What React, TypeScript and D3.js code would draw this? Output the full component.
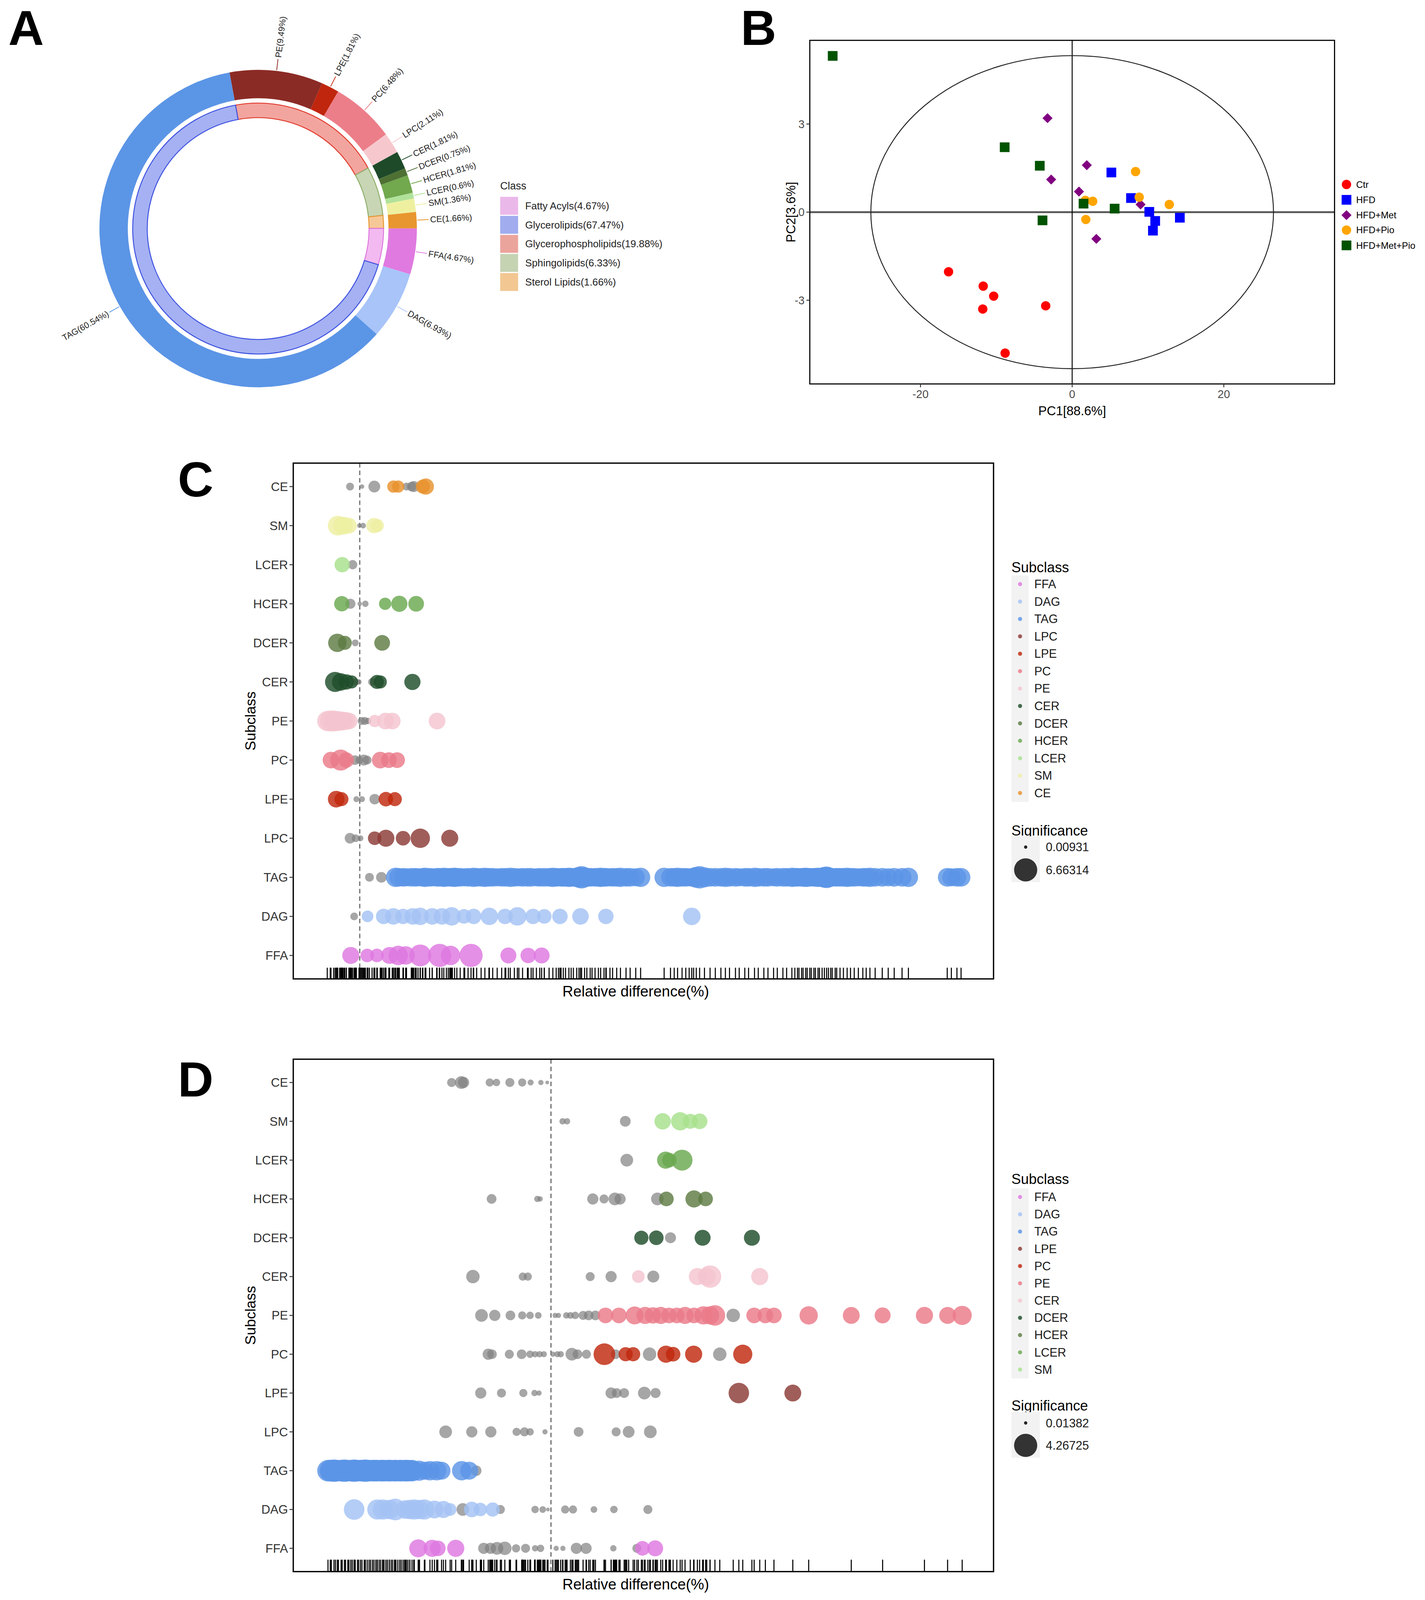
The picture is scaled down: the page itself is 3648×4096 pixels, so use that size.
import React from 'react';
import * as d3 from 'd3';

const FONT = "'Liberation Sans', Arial, Helvetica, sans-serif";

// ---------------- Panel A data ----------------
const OUTER_LABELS = ['PE(9.49%)', 'LPE(1.81%)', 'PC(6.48%)', 'LPC(2.11%)', 'CER(1.81%)', 'DCER(0.75%)', 'HCER(1.81%)', 'LCER(0.6%)', 'SM(1.36%)', 'CE(1.66%)', 'FFA(4.67%)', 'DAG(6.93%)', 'TAG(60.54%)'];
const OUTER_PCT = [9.49, 1.81, 6.48, 2.11, 1.81, 0.75, 1.81, 0.6, 1.36, 1.66, 4.67, 6.93, 60.54];
const OUTER_COLORS = ['#8b2b25', '#c0260d', '#ec7e89', '#f6c8ce', '#1e4a2a', '#4e7033', '#72a84e', '#b1e29a', '#eef0a0', '#e8962f', '#e07ae0', '#a8c4f8', '#5b95e6'];
const INNER_PCT = [19.88, 6.33, 1.66, 4.67, 67.47];
const INNER_FILL = ['#f2a59e', '#c8d6b5', '#f6c898', '#f2baf0', '#a5b1f2'];
const INNER_STROKE = ['#e03a2d', '#8cae68', '#e8962f', '#dd77dd', '#3b4fe0'];
const CLASS_LABELS = ['Fatty Acyls(4.67%)', 'Glycerolipids(67.47%)', 'Glycerophospholipids(19.88%)', 'Sphingolipids(6.33%)', 'Sterol Lipids(1.66%)'];
const CLASS_COLORS = ['#ebb8ea', '#a1acee', '#eba49c', '#c5d3b3', '#f2c792'];
const START_DEG = -10.4;

// ---------------- Panel B data ----------------
const PCA_GROUPS = ['Ctr', 'HFD', 'HFD+Met', 'HFD+Pio', 'HFD+Met+Pio'];
const PCA_COLORS = ['#ff0000', '#0000ff', '#800080', '#ffa500', '#005300'];
const PCA_SHAPES = ['circle', 'square', 'diamond', 'circle', 'square'];
const CTR_PC1 = [-16.3, -11.73, -10.35, -11.79, -3.49, -8.84];
const CTR_PC2 = [-2.03, -2.52, -2.86, -3.30, -3.19, -4.80];
const HFD_PC1 = [5.17, 7.76, 10.17, 10.95, 10.65, 14.2];
const HFD_PC2 = [1.35, 0.48, 0.01, -0.30, -0.63, -0.19];
const MET_PC1 = [-3.25, 1.93, -2.77, 0.9, 9.02, 3.19];
const MET_PC2 = [3.20, 1.60, 1.11, 0.70, 0.26, -0.91];
const PIO_PC1 = [8.36, 8.84, 12.81, 2.71, 1.74, 1.80];
const PIO_PC2 = [1.38, 0.51, 0.26, 0.37, 0.40, -0.25];
const METPIO_PC1 = [-31.58, -8.9, -4.27, 1.5, 5.6, -3.91];
const METPIO_PC2 = [5.32, 2.21, 1.58, 0.29, 0.12, -0.28];
const PCA_X_TICKS = [-20, 0, 20];
const PCA_Y_TICKS = [-3, 0, 3];
const ELLIPSE_A = 26.55;
const ELLIPSE_B = 5.33;

// ---------------- Panel C / D data ----------------
// each point: [relative difference, significance, significant(1)/not(0)]
type Pt = [number, number, number];
const CATS = ['CE', 'SM', 'LCER', 'HCER', 'DCER', 'CER', 'PE', 'PC', 'LPE', 'LPC', 'TAG', 'DAG', 'FFA'];
const PALETTE = ['#de78e0', '#a4c2f4', '#5b95e6', '#8b3a36', '#c0280e', '#ea7a89', '#f4c4cf', '#1e4d2b', '#5e7b43', '#6aa84f', '#a7e08c', '#eeefa2', '#e8912c'];
const C_LEGEND = ['FFA', 'DAG', 'TAG', 'LPC', 'LPE', 'PC', 'PE', 'CER', 'DCER', 'HCER', 'LCER', 'SM', 'CE'];
const D_LEGEND = ['FFA', 'DAG', 'TAG', 'LPE', 'PC', 'PE', 'CER', 'DCER', 'HCER', 'LCER', 'SM'];
const C_SIG_RANGE = [0.00931, 6.66314];
const D_SIG_RANGE = [0.01382, 4.26725];
const C_X_DOMAIN = [-17.8, 169.7];
const D_X_DOMAIN = [-69.0, 118.5];

const C_CE: Pt[] = [[-2.6, 0.67, 0], [0.6, 0.13, 0], [3.9, 1.63, 0], [9.0, 1.78, 1], [10.3, 1.78, 1], [12.5, 0.67, 0], [13.9, 1.07, 0], [14.5, 1.4, 0], [16.9, 2.4, 1], [17.7, 3.2, 1]];
const C_SM: Pt[] = [[-5.9, 4.8, 1], [-4.8, 3.8, 1], [-4.2, 3.77, 1], [-2.9, 3.0, 1], [-0.1, 0.13, 0], [0.9, 0.28, 0], [3.8, 2.85, 1], [4.7, 2.06, 1]];
const C_LCER: Pt[] = [[-4.7, 2.85, 1], [-1.9, 0.95, 0]];
const C_HCER: Pt[] = [[-4.8, 2.85, 1], [-2.5, 1.16, 0], [0.0, 0.13, 0], [1.5, 0.4, 0], [6.8, 1.78, 1], [10.6, 3.2, 1], [15.1, 3.0, 1]];
const C_DCER: Pt[] = [[-6.0, 4.15, 1], [-4.0, 2.37, 1], [-1.2, 0.46, 0], [6.0, 3.0, 1]];
const C_CER: Pt[] = [[-6.6, 5.0, 1], [-5.1, 3.77, 1], [-3.6, 2.85, 1], [-2.2, 2.06, 1], [-1.0, 0.46, 0], [-0.2, 0.22, 0], [3.3, 0.67, 0], [4.6, 2.37, 1], [5.5, 2.06, 1], [14.1, 3.2, 1]];
const C_PE: Pt[] = [[-8.7, 5.0, 1], [-7.9, 5.4, 1], [-7.0, 5.4, 1], [-6.2, 5.0, 1], [-5.4, 4.65, 1], [-4.5, 4.3, 1], [-3.6, 3.9, 1], [-2.8, 3.3, 1], [0.5, 0.67, 0], [1.35, 0.67, 0], [2.2, 0.4, 0], [4.0, 1.78, 1], [6.9, 3.4, 1], [8.7, 3.4, 1], [20.7, 3.4, 1]];
const C_PC: Pt[] = [[-7.7, 3.4, 1], [-5.1, 5.5, 1], [-3.6, 2.9, 1], [-1.3, 1.05, 0], [-0.1, 0.67, 0], [1.1, 1.4, 0], [2.0, 0.85, 0], [5.5, 3.4, 1], [7.8, 3.0, 1], [10.0, 3.0, 1]];
const C_LPE: Pt[] = [[-6.3, 3.4, 1], [-4.9, 2.37, 1], [-0.9, 0.33, 0], [0.6, 0.33, 0], [4.0, 1.27, 0], [7.0, 2.55, 1], [9.4, 2.37, 1]];
const C_LPC: Pt[] = [[-2.6, 1.31, 0], [-1.1, 0.64, 0], [0.2, 0.3, 0], [4.0, 2.2, 1], [7.0, 3.55, 1], [11.6, 2.57, 1], [16.2, 4.65, 1], [24.1, 3.55, 1]];
const C_TAG: Pt[] = [[2.6, 0.85, 0], [5.8, 1.31, 0],
  [9.6, 4.6, 1], [10.4, 4.3, 1], [11.7, 4.3, 1], [12.5, 4.0, 1], [13.8, 4.3, 1], [14.9, 4.3, 1], [15.6, 4.0, 1], [16.8, 4.3, 1], [17.5, 4.6, 1], [18.7, 4.3, 1], [19.4, 4.0, 1], [20.6, 4.3, 1], [21.3, 4.3, 1], [22.5, 4.6, 1], [23.2, 4.3, 1], [23.7, 4.0, 1], [24.3, 4.3, 1], [24.8, 4.3, 1], [25.4, 4.6, 1], [26.0, 4.3, 1], [26.9, 4.3, 1], [28.1, 4.0, 1], [29.0, 4.3, 1], [30.4, 4.6, 1], [31.3, 4.3, 1], [32.5, 4.3, 1], [33.5, 4.6, 1], [34.6, 4.3, 1], [35.6, 4.3, 1], [36.8, 4.0, 1], [38.0, 4.3, 1], [39.1, 4.3, 1], [40.3, 4.6, 1], [41.4, 4.3, 1], [42.6, 4.0, 1], [43.6, 4.3, 1], [44.9, 4.3, 1], [45.9, 4.3, 1], [47.3, 4.0, 1], [48.2, 4.3, 1], [49.4, 4.3, 1], [50.7, 4.3, 1], [51.7, 4.6, 1], [52.6, 4.3, 1], [53.2, 4.0, 1], [53.9, 4.3, 1], [54.5, 4.3, 1], [55.1, 4.3, 1], [56.0, 4.6, 1], [56.6, 4.3, 1], [57.2, 4.3, 1], [58.1, 4.6, 1], [58.7, 5.4, 1], [59.4, 6.2, 1], [60.2, 5.0, 1], [60.8, 4.3, 1], [61.7, 4.3, 1], [62.2, 4.0, 1], [63.0, 4.3, 1], [63.9, 4.3, 1], [64.5, 4.6, 1], [65.4, 4.3, 1], [66.0, 4.3, 1], [67.0, 4.0, 1], [67.7, 4.3, 1], [68.8, 4.3, 1], [69.8, 4.6, 1], [71.3, 4.3, 1], [72.4, 4.3, 1], [73.9, 4.0, 1], [75.2, 4.6, 1],
  [81.5, 4.6, 1], [83.2, 4.3, 1], [84.2, 4.3, 1], [85.1, 4.6, 1], [86.3, 4.3, 1], [87.3, 4.3, 1], [88.2, 4.0, 1], [89.4, 4.6, 1], [90.1, 5.4, 1], [91.0, 6.2, 1], [92.3, 5.0, 1], [93.8, 4.3, 1], [95.2, 4.3, 1], [96.7, 4.3, 1], [97.9, 4.6, 1], [99.0, 4.3, 1], [100.6, 4.3, 1], [101.6, 4.0, 1], [103.1, 4.3, 1], [104.1, 4.3, 1], [105.7, 4.6, 1], [106.7, 4.3, 1], [108.2, 4.3, 1], [109.3, 4.3, 1], [110.8, 4.0, 1], [111.8, 4.3, 1], [113.3, 4.3, 1], [114.3, 4.3, 1], [115.7, 4.6, 1], [116.5, 4.3, 1], [117.2, 4.3, 1], [117.6, 4.0, 1], [118.3, 4.3, 1], [118.7, 4.3, 1], [119.4, 4.6, 1], [119.8, 4.3, 1], [120.5, 4.3, 1], [120.9, 4.0, 1], [121.6, 4.3, 1], [122.0, 4.3, 1], [122.7, 4.6, 1], [123.1, 4.3, 1], [123.8, 4.6, 1], [124.4, 5.4, 1], [125.0, 5.8, 1], [125.5, 5.0, 1], [126.1, 4.3, 1], [126.5, 4.3, 1], [127.3, 4.0, 1], [127.7, 4.3, 1], [128.6, 4.3, 1], [129.5, 4.3, 1], [130.5, 4.6, 1], [131.4, 4.3, 1], [132.4, 4.3, 1], [133.5, 4.0, 1], [134.7, 4.3, 1], [135.6, 4.3, 1], [136.6, 4.6, 1], [138.0, 4.3, 1], [139.9, 4.3, 1], [141.5, 4.0, 1], [143.1, 4.3, 1], [145.2, 4.3, 1], [146.9, 4.6, 1],
  [157.3, 4.3, 1], [158.4, 4.0, 1], [159.9, 4.3, 1], [161.0, 4.3, 1]];
const C_DAG: Pt[] = [[-1.5, 0.64, 0], [2.1, 1.6, 1], [6.4, 2.9, 1], [9.0, 3.35, 1], [11.6, 2.9, 1], [14.2, 3.35, 1], [16.2, 3.75, 1], [19.4, 3.35, 1], [22.0, 3.35, 1], [24.6, 4.2, 1], [27.9, 2.57, 1], [30.5, 2.9, 1], [34.7, 3.75, 1], [38.9, 2.9, 1], [42.2, 4.2, 1], [46.4, 2.9, 1], [49.4, 2.57, 1], [53.6, 2.9, 1], [59.1, 3.35, 1], [65.9, 2.9, 1], [88.9, 3.8, 1]];
const C_FFA: Pt[] = [[-2.4, 3.55, 1], [2.0, 2.2, 1], [4.6, 2.2, 1], [8.0, 3.55, 1], [10.3, 4.65, 1], [12.3, 4.2, 1], [16.2, 5.95, 1], [21.4, 6.66, 1], [24.3, 4.65, 1], [29.8, 6.66, 1], [39.8, 3.1, 1], [45.1, 2.9, 1], [48.7, 3.1, 1]];

const D_CE: Pt[] = [[-26.6, 0.58, 0], [-24.0, 1.23, 0], [-23.4, 0.94, 0], [-16.4, 0.47, 0], [-14.6, 0.38, 0], [-11.0, 0.58, 0], [-7.7, 0.47, 0], [-5.45, 0.22, 0], [-2.7, 0.15, 0], [-1.0, 0.04, 0]];
const D_SM: Pt[] = [[3.1, 0.25, 0], [4.3, 0.25, 0], [19.9, 0.86, 0], [29.9, 2.11, 1], [34.6, 2.64, 1], [37.3, 1.73, 1], [39.8, 1.91, 1]];
const D_LCER: Pt[] = [[20.3, 1.23, 0], [30.7, 2.31, 1], [31.7, 1.64, 1], [35.1, 3.46, 1]];
const D_HCER: Pt[] = [[-15.9, 0.69, 0], [-3.65, 0.25, 0], [-2.9, 0.15, 0], [11.2, 0.94, 0], [14.2, 0.58, 0], [17.1, 1.23, 0], [18.5, 0.94, 0], [28.5, 1.23, 0], [30.9, 1.66, 1], [38.3, 2.31, 1], [41.4, 1.66, 1]];
const D_DCER: Pt[] = [[24.2, 1.56, 1], [28.2, 1.66, 1], [32.0, 0.9, 0], [40.6, 1.99, 1], [53.8, 1.99, 1]];
const D_CER: Pt[] = [[-20.9, 1.39, 0], [-7.55, 0.47, 0], [-6.2, 0.47, 0], [10.5, 0.58, 0], [16.1, 0.94, 0], [27.4, 1.08, 0], [23.4, 1.23, 1], [39.2, 2.31, 1], [41.7, 2.53, 1], [42.6, 3.98, 1], [55.9, 2.31, 1]];
const D_PE: Pt[] = [[-18.6, 1.23, 0], [-15.05, 0.94, 0], [-10.85, 0.69, 0], [-7.7, 0.47, 0], [-5.6, 0.38, 0], [-3.4, 0.29, 0], [1.1, 0.15, 0], [2.0, 0.15, 0], [4.1, 0.25, 0], [5.2, 0.29, 0], [6.5, 0.38, 0], [8.6, 0.58, 0], [10.1, 0.69, 0], [11.9, 0.69, 0], [48.8, 1.39, 0],
  [14.6, 1.91, 1], [18.2, 1.91, 1], [22.4, 2.53, 1], [25.2, 2.31, 1], [27.3, 2.11, 1], [29.4, 2.31, 1], [31.6, 1.91, 1], [33.7, 1.91, 1], [35.9, 2.31, 1], [38.3, 1.91, 1], [40.8, 2.64, 1], [42.6, 2.64, 1], [43.9, 3.33, 1], [54.4, 1.91, 1], [57.4, 1.91, 1], [59.7, 1.91, 1], [69.0, 2.64, 1], [80.4, 2.23, 1], [88.8, 1.99, 1], [100.0, 2.31, 1], [106.2, 2.23, 1], [110.1, 2.9, 1]];
const D_PC: Pt[] = [[-16.8, 0.94, 0], [-15.8, 0.69, 0], [-11.15, 0.58, 0], [-7.85, 0.69, 0], [-5.6, 0.38, 0], [-4.25, 0.25, 0], [-3.05, 0.25, 0], [-1.9, 0.22, 0], [0.5, 0.15, 0], [1.7, 0.22, 0], [2.6, 0.25, 0], [5.6, 1.23, 0], [7.1, 0.69, 0], [9.5, 0.58, 0], [17.3, 0.69, 0], [26.4, 1.39, 0], [45.2, 1.39, 0],
  [14.3, 3.72, 1], [20.0, 1.56, 1], [22.0, 1.56, 1], [30.8, 2.31, 1], [32.7, 1.66, 1], [38.2, 2.31, 1], [51.35, 2.9, 1]];
const D_LPE: Pt[] = [[-18.8, 0.94, 0], [-13.25, 0.58, 0], [-7.4, 0.47, 0], [-4.4, 0.25, 0], [-3.2, 0.15, 0], [16.1, 0.94, 0], [17.6, 0.69, 0], [19.6, 0.69, 0], [25.0, 1.23, 0], [28.0, 0.74, 0], [50.3, 3.33, 1], [64.75, 2.23, 1]];
const D_LPC: Pt[] = [[-28.2, 1.23, 0], [-21.2, 0.94, 0], [-16.1, 0.94, 0], [-9.2, 0.47, 0], [-7.1, 0.58, 0], [-5.6, 0.38, 0], [-1.6, 0.15, 0], [7.4, 0.69, 0], [17.45, 0.58, 0], [20.8, 1.05, 0], [26.6, 1.23, 0]];
const D_TAG: Pt[] = [[-20.0, 0.81, 0],
  [-59.7, 3.7, 1], [-59.1, 3.7, 1], [-58.8, 3.7, 1], [-58.1, 3.98, 1], [-57.7, 3.7, 1], [-57.2, 3.7, 1], [-56.9, 3.5, 1], [-56.2, 3.7, 1], [-55.9, 3.7, 1], [-55.3, 3.98, 1], [-55.0, 3.7, 1], [-54.4, 3.7, 1], [-54.1, 3.5, 1], [-53.6, 3.7, 1], [-53.2, 3.7, 1], [-52.7, 3.98, 1], [-52.4, 3.7, 1], [-51.8, 3.7, 1], [-51.5, 3.5, 1], [-51.0, 3.7, 1], [-50.6, 3.7, 1], [-50.0, 3.7, 1], [-49.7, 3.98, 1], [-49.2, 3.7, 1], [-48.7, 3.7, 1], [-48.3, 3.5, 1], [-47.8, 3.7, 1], [-47.4, 3.7, 1], [-46.9, 3.7, 1], [-46.5, 3.7, 1], [-46.0, 3.5, 1], [-45.6, 3.7, 1], [-45.1, 3.7, 1], [-44.7, 3.7, 1], [-44.2, 3.5, 1], [-43.8, 3.7, 1], [-43.3, 3.7, 1], [-42.8, 3.7, 1], [-42.4, 3.5, 1], [-41.9, 3.7, 1], [-41.5, 3.7, 1], [-41.0, 3.5, 1], [-40.5, 3.7, 1], [-40.1, 3.7, 1], [-39.6, 3.5, 1], [-39.2, 3.7, 1], [-38.7, 3.7, 1], [-38.3, 3.7, 1], [-37.8, 3.5, 1], [-37.2, 3.7, 1], [-36.75, 2.97, 1], [-35.3, 3.2, 1], [-33.75, 2.53, 1], [-32.4, 2.97, 1], [-30.6, 2.97, 1], [-29.3, 2.53, 1], [-23.9, 2.97, 1], [-21.9, 2.53, 1]];
const D_DAG: Pt[] = [[-23.6, 1.23, 0], [-13.55, 0.58, 0], [-4.25, 0.38, 0], [-2.2, 0.29, 0], [-0.8, 0.04, 0], [3.8, 0.47, 0], [5.9, 0.47, 0], [11.5, 0.29, 0], [16.85, 0.38, 0], [25.95, 0.58, 0],
  [-52.7, 3.37, 1], [-46.5, 3.21, 1], [-45.0, 3.21, 1], [-43.3, 3.0, 1], [-41.7, 3.72, 1], [-39.0, 2.75, 1], [-37.8, 3.0, 1], [-36.6, 3.21, 1], [-35.2, 3.0, 1], [-33.9, 3.21, 1], [-31.2, 2.53, 1], [-28.8, 2.31, 1], [-27.0, 1.23, 1], [-21.2, 1.91, 1], [-18.9, 1.39, 1], [-15.6, 1.56, 1]];
const D_FFA: Pt[] = [[-18.0, 0.94, 0], [-16.2, 0.94, 0], [-14.45, 1.23, 0], [-12.35, 1.39, 0], [-9.35, 0.47, 0], [-6.8, 0.58, 0], [-4.25, 0.25, 0], [-2.8, 0.38, 0], [1.4, 0.15, 0], [3.2, 0.15, 0], [6.8, 0.94, 0], [9.4, 0.94, 0], [16.7, 0.25, 0], [23.0, 0.58, 0],
  [-35.55, 2.53, 1], [-31.8, 2.31, 1], [-30.3, 1.91, 1], [-25.5, 2.31, 1], [24.5, 1.66, 1], [27.9, 1.99, 1]];

const C_SERIES: Record<string, Pt[]> = { CE: C_CE, SM: C_SM, LCER: C_LCER, HCER: C_HCER, DCER: C_DCER, CER: C_CER, PE: C_PE, PC: C_PC, LPE: C_LPE, LPC: C_LPC, TAG: C_TAG, DAG: C_DAG, FFA: C_FFA };
const D_SERIES: Record<string, Pt[]> = { CE: D_CE, SM: D_SM, LCER: D_LCER, HCER: D_HCER, DCER: D_DCER, CER: D_CER, PE: D_PE, PC: D_PC, LPE: D_LPE, LPC: D_LPC, TAG: D_TAG, DAG: D_DAG, FFA: D_FFA };

// ---------------- Panel A ----------------
function PanelA() {
  const cx = 691, cy = 612;
  const s0 = (START_DEG * Math.PI) / 180;
  const pie = d3.pie<number>().sort(null).startAngle(s0).endAngle(s0 + 2 * Math.PI);
  const outer = pie(OUTER_PCT);
  const inner = pie(INNER_PCT);
  const arcO = d3.arc<d3.PieArcDatum<number>>().innerRadius(349).outerRadius(425);
  const arcI = d3.arc<d3.PieArcDatum<number>>().innerRadius(297).outerRadius(336);
  const pol = (a: number, r: number) => [r * Math.sin(a), -r * Math.cos(a)];
  return (
    <g>
      <text x={22} y={120} fontSize={132} fontWeight="bold" fill="#000">A</text>
      <g transform={`translate(${cx},${cy})`}>
        {outer.map((a, i) => <path key={'o' + i} d={arcO(a) || ''} fill={OUTER_COLORS[i]} />)}
        {inner.map((a, i) => <path key={'i' + i} d={arcI(a) || ''} fill={INNER_FILL[i]} stroke={INNER_STROKE[i]} strokeWidth={2.5} />)}
        {outer.map((a, i) => {
          const m = (a.startAngle + a.endAngle) / 2;
          const deg = (((m * 180) / Math.PI) % 360 + 360) % 360;
          const right = deg < 180;
          const [x1, y1] = pol(m, 427);
          const [x2, y2] = pol(m, 457);
          const [tx, ty] = pol(m, 461);
          const rot = right ? deg - 90 : deg - 270;
          return (
            <g key={'l' + i}>
              <line x1={x1} y1={y1} x2={x2} y2={y2} stroke={OUTER_COLORS[i]} strokeWidth={2} />
              <text x={tx} y={ty} fontSize={23} fill="#222" dy="0.35em" textAnchor={right ? 'start' : 'end'} transform={`rotate(${rot},${tx},${ty})`}>{OUTER_LABELS[i]}</text>
            </g>
          );
        })}
      </g>
      <text x={1339} y={507} fontSize={28} fill="#222">Class</text>
      {CLASS_LABELS.map((l, i) => (
        <g key={l}>
          <rect x={1339} y={527 + i * 51} width={48} height={48} fill={CLASS_COLORS[i]} />
          <text x={1406} y={551 + i * 51} dy="0.35em" fontSize={27} fill="#222">{l}</text>
        </g>
      ))}
    </g>
  );
}

// ---------------- Panel B ----------------
function Marker({ shape, x, y, color }: { shape: string; x: number; y: number; color: string }) {
  if (shape === 'circle') return <circle cx={x} cy={y} r={12.5} fill={color} />;
  if (shape === 'square') return <rect x={x - 13} y={y - 13} width={26} height={26} fill={color} />;
  return <rect x={x - 9.5} y={y - 9.5} width={19} height={19} fill={color} transform={`rotate(45,${x},${y})`} />;
}

function PanelB() {
  const L = 2168, R = 3573, T = 108, B = 1028;
  const x = d3.scaleLinear().domain([-34.6, 34.6]).range([L, R]);
  const y = d3.scaleLinear().domain([-5.85, 5.85]).range([B, T]);
  const groups = [
    [CTR_PC1, CTR_PC2], [HFD_PC1, HFD_PC2], [MET_PC1, MET_PC2], [PIO_PC1, PIO_PC2], [METPIO_PC1, METPIO_PC2],
  ];
  const legY = [494, 535, 576, 616, 657];
  return (
    <g>
      <text x={1983} y={120} fontSize={132} fontWeight="bold" fill="#000">B</text>
      <line x1={L} x2={R} y1={y(0)} y2={y(0)} stroke="#555" strokeWidth={5} />
      <line x1={x(0)} x2={x(0)} y1={T} y2={B} stroke="#000" strokeWidth={2.5} />
      <ellipse cx={x(0)} cy={y(0)} rx={x(ELLIPSE_A) - x(0)} ry={y(0) - y(ELLIPSE_B)} fill="none" stroke="#222" strokeWidth={2.5} />
      {groups.map((g, gi) => g[0].map((v, j) => (
        <Marker key={gi + '-' + j} shape={PCA_SHAPES[gi]} x={x(v)} y={y(g[1][j])} color={PCA_COLORS[gi]} />
      )))}
      <rect x={L} y={T} width={R - L} height={B - T} fill="none" stroke="#000" strokeWidth={3} />
      {PCA_X_TICKS.map((t) => (
        <g key={'x' + t}>
          <line x1={x(t)} x2={x(t)} y1={B} y2={B + 9} stroke="#333" strokeWidth={2.5} />
          <text x={x(t)} y={1066} fontSize={30} fill="#4d4d4d" textAnchor="middle">{t}</text>
        </g>
      ))}
      {PCA_Y_TICKS.map((t) => (
        <g key={'y' + t}>
          <line x1={L - 9} x2={L} y1={y(t)} y2={y(t)} stroke="#333" strokeWidth={2.5} />
          <text x={L - 14} y={y(t)} dy="0.35em" fontSize={30} fill="#4d4d4d" textAnchor="end">{t}</text>
        </g>
      ))}
      <text x={(L + R) / 2} y={1112} fontSize={34} textAnchor="middle" fill="#000">PC1[88.6%]</text>
      <text x={2117} y={568} fontSize={34} textAnchor="middle" dy="0.35em" fill="#000" transform={`rotate(-90,2117,568)`}>PC2[3.6%]</text>
      {PCA_GROUPS.map((g, i) => (
        <g key={g}>
          <Marker shape={PCA_SHAPES[i]} x={3605} y={legY[i]} color={PCA_COLORS[i]} />
          <text x={3631} y={legY[i]} dy="0.35em" fontSize={25} fill="#000">{g}</text>
        </g>
      ))}
    </g>
  );
}

// ---------------- Panels C & D ----------------
interface BubbleCfg {
  letter: string; letterY: number; top: number; bottom: number; xDomain: number[];
  series: Record<string, Pt[]>; legend: string[]; sigRange: number[];
  titleY: number; legTitleY: number; legFirst: number; legStep: number;
  sigTitleY: number; sigSmallY: number; sigBigY: number; rug: number;
}

function Bubble({ cfg }: { cfg: BubbleCfg }) {
  const L = 785, R = 2660;
  const y = d3.scalePoint<string>().domain(CATS).range([cfg.top, cfg.bottom]).padding(0.6);
  const x = d3.scaleLinear().domain(cfg.xDomain).range([L, R]);
  const area = d3.scaleLinear().domain(cfg.sigRange).range([4.4 * 4.4, 31 * 31]);
  const rad = (s: number) => Math.sqrt(Math.max(1, area(s)));
  const colorOf = (c: string) => PALETTE[cfg.legend.indexOf(c)];
  const all: { c: string; p: Pt }[] = [];
  CATS.forEach((c) => cfg.series[c].forEach((p) => all.push({ c, p })));
  const greys = all.filter((d) => d.p[2] === 0);
  const colored = all.filter((d) => d.p[2] === 1);
  const midY = (cfg.top + cfg.bottom) / 2;
  const LX = 2708;
  return (
    <g>
      <text x={476} y={cfg.letterY} fontSize={132} fontWeight="bold" fill="#000">{cfg.letter}</text>
      <line x1={x(0)} x2={x(0)} y1={cfg.top} y2={cfg.bottom} stroke="#666" strokeWidth={3} strokeDasharray="12 8" />
      {greys.map((d, i) => (
        <circle key={'g' + i} cx={x(d.p[0])} cy={y(d.c)} r={rad(d.p[1])} fill="#808080" fillOpacity={0.7} />
      ))}
      {colored.map((d, i) => (
        <circle key={'c' + i} cx={x(d.p[0])} cy={y(d.c)} r={rad(d.p[1])} fill={colorOf(d.c) || '#808080'} fillOpacity={0.82} />
      ))}
      {all.map((d, i) => (
        <line key={'r' + i} x1={x(d.p[0])} x2={x(d.p[0])} y1={cfg.bottom - cfg.rug} y2={cfg.bottom} stroke="#000" strokeWidth={2.8} />
      ))}
      <rect x={L} y={cfg.top} width={R - L} height={cfg.bottom - cfg.top} fill="none" stroke="#000" strokeWidth={3.5} />
      {CATS.map((c) => (
        <g key={c}>
          <line x1={L - 10} x2={L} y1={y(c)} y2={y(c)} stroke="#333" strokeWidth={2.5} />
          <text x={L - 14} y={y(c)} dy="0.35em" textAnchor="end" fontSize={33} fill="#333">{c}</text>
        </g>
      ))}
      <text x={670} y={midY} dy="0.35em" textAnchor="middle" fontSize={39} fill="#000" transform={`rotate(-90,670,${midY})`}>Subclass</text>
      <text x={1702} y={cfg.titleY} textAnchor="middle" fontSize={40} fill="#000">Relative difference(%)</text>
      <text x={LX} y={cfg.legTitleY} fontSize={38} fill="#000">Subclass</text>
      {cfg.legend.map((c, i) => {
        const cy = cfg.legFirst + i * cfg.legStep;
        return (
          <g key={'lg' + c}>
            <rect x={LX} y={cy - cfg.legStep / 2} width={46} height={cfg.legStep + 0.5} fill="#f2f2f2" />
            <circle cx={LX + 23} cy={cy} r={5.5} fill={PALETTE[i]} fillOpacity={0.82} />
            <text x={2769} y={cy} dy="0.35em" fontSize={32} fill="#1a1a1a">{c}</text>
          </g>
        );
      })}
      <text x={LX} y={cfg.sigTitleY} fontSize={38} fill="#000">Significance</text>
      <rect x={LX} y={cfg.sigSmallY - 29} width={76} height={cfg.sigBigY - cfg.sigSmallY + 62} fill="#f2f2f2" />
      <circle cx={LX + 38} cy={cfg.sigSmallY} r={rad(cfg.sigRange[0])} fill="#222" />
      <circle cx={LX + 38} cy={cfg.sigBigY} r={rad(cfg.sigRange[1])} fill="#333" />
      <text x={2800} y={cfg.sigSmallY} dy="0.35em" fontSize={32} fill="#1a1a1a">{cfg.sigRange[0]}</text>
      <text x={2800} y={cfg.sigBigY} dy="0.35em" fontSize={32} fill="#1a1a1a">{cfg.sigRange[1]}</text>
    </g>
  );
}

const C_CFG: BubbleCfg = {
  letter: 'C', letterY: 1329, top: 1240, bottom: 2621, xDomain: C_X_DOMAIN, series: C_SERIES, legend: C_LEGEND, sigRange: C_SIG_RANGE,
  titleY: 2668, legTitleY: 1532, legFirst: 1564, legStep: 46.6, sigTitleY: 2237, sigSmallY: 2268, sigBigY: 2329, rug: 30,
};
const D_CFG: BubbleCfg = {
  letter: 'D', letterY: 2936, top: 2836, bottom: 4208, xDomain: D_X_DOMAIN, series: D_SERIES, legend: D_LEGEND, sigRange: D_SIG_RANGE,
  titleY: 4256, legTitleY: 3170, legFirst: 3205, legStep: 46.2, sigTitleY: 3777, sigSmallY: 3810, sigBigY: 3870, rug: 32,
};

export default function App() {
  return (
    <svg width={3648} height={4096} viewBox="0 0 3815 4284" style={{ position: 'absolute', left: 0, top: 0, background: '#fff' }} fontFamily={FONT}>
      <rect x={0} y={0} width={3815} height={4284} fill="#fff" />
      <PanelA />
      <PanelB />
      <Bubble cfg={C_CFG} />
      <Bubble cfg={D_CFG} />
    </svg>
  );
}
